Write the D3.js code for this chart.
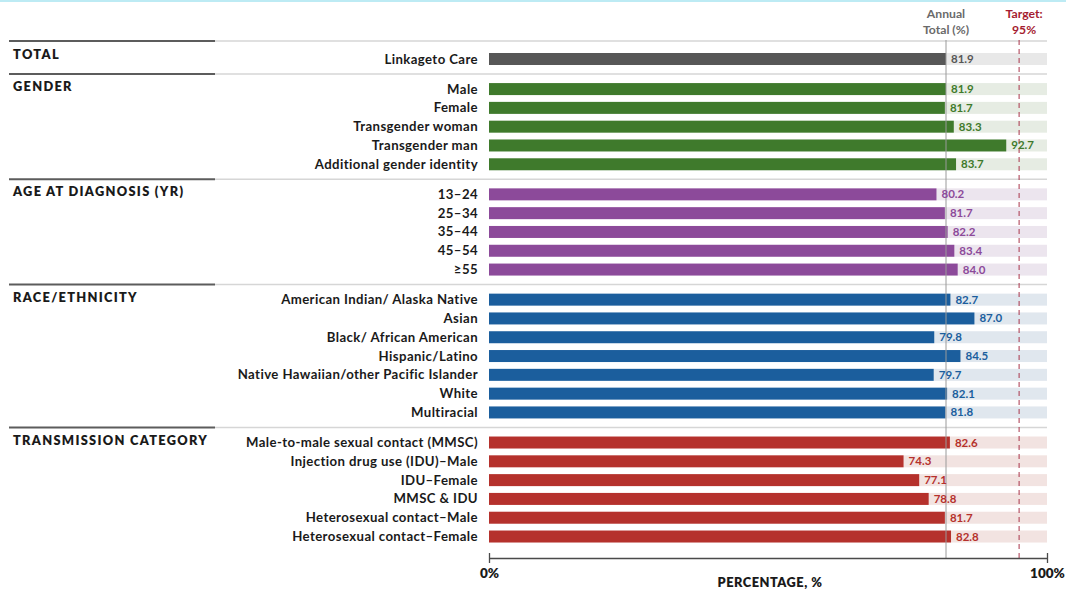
<!DOCTYPE html>
<html>
<head>
<meta charset="utf-8">
<script src="https://cdn.jsdelivr.net/npm/d3@7"></script>
<style>
  html, body { margin: 0; padding: 0; background: #ffffff; }
  svg { display: block; font-family: Lato, "Open Sans", sans-serif; }
</style>
</head>
<body>
<svg id="chart" width="1066" height="589"></svg>
<script>
// Section headings, row labels and linkage-to-care percentages
const sections = ["TOTAL", "GENDER", "AGE AT DIAGNOSIS (YR)", "RACE/ETHNICITY", "TRANSMISSION CATEGORY"];

const totalLabels = ["Linkageto Care"];
const totalValues = [81.9];

const genderLabels = ["Male", "Female", "Transgender woman", "Transgender man", "Additional gender identity"];
const genderValues = [81.9, 81.7, 83.3, 92.7, 83.7];

const ageLabels = ["13\u201324", "25\u201334", "35\u201344", "45\u201354", "\u226555"];
const ageValues = [80.2, 81.7, 82.2, 83.4, 84.0];

const raceLabels = ["American Indian/ Alaska Native", "Asian", "Black/ African American", "Hispanic/Latino",
  "Native Hawaiian/other Pacific Islander", "White", "Multiracial"];
const raceValues = [82.7, 87.0, 79.8, 84.5, 79.7, 82.1, 81.8];

const transLabels = ["Male-to-male sexual contact (MMSC)", "Injection drug use (IDU)\u2013Male", "IDU\u2013Female",
  "MMSC & IDU", "Heterosexual contact\u2013Male", "Heterosexual contact\u2013Female"];
const transValues = [82.6, 74.3, 77.1, 78.8, 81.7, 82.8];

const annualTotal = 81.9;
const target = 95;
const axisTicks = [0, 100];

// Palette per section: bar colour, background track colour
const barColors = ["#575757", "#3f7a2c", "#8c4a9a", "#1b5e9d", "#b5312c"];
const trackColors = ["#e8e8e8", "#e6ece3", "#ece5ee", "#e0e7ee", "#f2e3e1"];

const groups = [
  [totalLabels, totalValues],
  [genderLabels, genderValues],
  [ageLabels, ageValues],
  [raceLabels, raceValues],
  [transLabels, transValues]
];

// Lay rows out on a slot index: one slot per row plus a gap between sections
const rows = [];
const sectionInfo = [];
let slot = 0;
groups.forEach(([labels, values], si) => {
  if (si > 0) slot += 0.6;
  const first = slot;
  labels.forEach((lab, i) => {
    rows.push({ label: lab, value: values[i], section: si, slot: slot });
    slot += 1;
  });
  sectionInfo.push({ name: sections[si], first: first, last: slot - 1 });
});

const svg = d3.select("#chart");
const W = 1066;

const x = d3.scaleLinear().domain([0, 100]).range([489, 1047]);
const y = d3.scaleLinear().domain([0, 1]).range([59, 77.8]);
const barH = 12;

// Thin cyan rule along the top edge
svg.append("rect").attr("x", 0).attr("y", 0).attr("width", W).attr("height", 2).attr("fill", "#bdebf4");

// Section separators: dark lead segment plus light rule
sectionInfo.forEach((s, i) => {
  const yy = i === 0 ? y(s.first) - 18 : (y(s.first) + y(sectionInfo[i - 1].last)) / 2;
  svg.append("line").attr("x1", 215).attr("x2", 1047).attr("y1", yy).attr("y2", yy)
    .attr("stroke", "#d6d6d6").attr("stroke-width", 1.5);
  svg.append("line").attr("x1", 9).attr("x2", 215).attr("y1", yy).attr("y2", yy)
    .attr("stroke", "#5c5c5c").attr("stroke-width", 2);
  svg.append("text").attr("x", 13).attr("y", y(s.first) + (i === 0 ? 0 : 2))
    .attr("font-size", 12.8).attr("font-weight", 800).attr("letter-spacing", 1.3)
    .attr("fill", "#1a1a1a").text(s.name);
});

// Background tracks to 100%
svg.append("g").selectAll("rect").data(rows).join("rect")
  .attr("x", d => x(d.value))
  .attr("y", d => y(d.slot) - barH / 2)
  .attr("width", d => x(100) - x(d.value))
  .attr("height", barH)
  .attr("fill", d => trackColors[d.section]);

// Bars
svg.append("g").selectAll("rect").data(rows).join("rect")
  .attr("x", x(0))
  .attr("y", d => y(d.slot) - barH / 2)
  .attr("width", d => x(d.value) - x(0))
  .attr("height", barH)
  .attr("fill", d => barColors[d.section]);

// Row labels
svg.append("g").selectAll("text").data(rows).join("text")
  .attr("x", 478)
  .attr("y", d => y(d.slot) + 4.5)
  .attr("text-anchor", "end")
  .attr("font-size", 13.2).attr("font-weight", 700).attr("letter-spacing", 0.4)
  .attr("fill", "#1a1a1a")
  .text(d => d.label);

const axisY = 558;
const lineTop = 40;

// Annual total reference line
svg.append("line").attr("x1", x(annualTotal)).attr("x2", x(annualTotal))
  .attr("y1", lineTop).attr("y2", axisY)
  .attr("stroke", "#9a9a9a").attr("stroke-width", 1);

// Target line
svg.append("line").attr("x1", x(target)).attr("x2", x(target))
  .attr("y1", lineTop).attr("y2", axisY)
  .attr("stroke", "#a8344a").attr("stroke-width", 1).attr("stroke-dasharray", "5,4");

// Value labels
svg.append("g").selectAll("text").data(rows).join("text")
  .attr("x", d => x(d.value) + 5)
  .attr("y", d => y(d.slot) + 4)
  .attr("font-size", 11.5).attr("font-weight", 700)
  .attr("fill", d => barColors[d.section])
  .text(d => d.value.toFixed(1));

// Column headers
const hdr = svg.append("g").attr("font-size", 12.2).attr("font-weight", 700).attr("text-anchor", "middle");
hdr.append("text").attr("x", x(annualTotal)).attr("y", 18).attr("fill", "#6a6a6a").text("Annual");
hdr.append("text").attr("x", x(annualTotal)).attr("y", 34).attr("fill", "#6a6a6a").text("Total (%)");
hdr.append("text").attr("x", x(target) + 5).attr("y", 18).attr("fill", "#a51c30").text("Target:");
hdr.append("text").attr("x", x(target) + 5).attr("y", 34).attr("fill", "#a51c30").text("95%");

// Percentage axis
const axis = d3.axisBottom(x).tickValues(axisTicks).tickSize(0).tickFormat(d => d + "%");
const ax = svg.append("g").attr("transform", `translate(0,${axisY})`).call(axis);
ax.select(".domain").attr("stroke", "#4a4a4a").attr("stroke-width", 1.3);
ax.selectAll(".tick").append("line").attr("y1", -5).attr("y2", 5).attr("stroke", "#4a4a4a").attr("stroke-width", 1.3);
ax.selectAll(".tick text").attr("y", 10).attr("font-size", 13.5).attr("font-weight", 800)
  .attr("font-family", "Lato, sans-serif").attr("fill", "#1a1a1a");

svg.append("text").attr("x", 770).attr("y", 587).attr("text-anchor", "middle")
  .attr("font-size", 12.8).attr("font-weight", 800).attr("letter-spacing", 0.5)
  .attr("fill", "#1a1a1a").text("PERCENTAGE, %");
</script>
</body>
</html>
